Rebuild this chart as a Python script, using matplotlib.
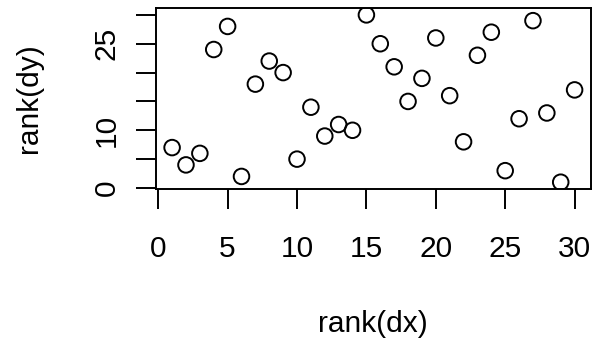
import matplotlib
matplotlib.use("Agg")
from matplotlib import pyplot as plt

# rank(dx) is just 1..30, rank(dy)
rank_dx = list(range(1, 31))
rank_dy = [7, 4, 6, 24, 28, 2, 18, 22, 20, 5, 14, 9, 11, 10, 30,
           25, 21, 15, 19, 26, 16, 8, 23, 27, 3, 12, 29, 13, 1, 17]
x_ticks = [0, 5, 10, 15, 20, 25, 30]
y_ticks = [0, 5, 10, 15, 20, 25, 30]
y_tick_labels = ["0", "", "10", "", "", "25", ""]

plt.rcParams["font.family"] = ["Liberation Sans", "DejaVu Sans"]
fs = 21.5

fig = plt.figure(figsize=(5.94, 3.43), dpi=100)
W, H = 594, 343
ax = fig.add_axes([156 / W, 1 - 188.9 / H, (590.7 - 156) / W, (188.9 - 8.2) / H])

ax.scatter(rank_dx, rank_dy, s=11.2 ** 2, facecolors="none", edgecolors="black",
           linewidths=1.4, zorder=3)

ax.set_xlim(-0.16, 31.16)
ax.set_ylim(-0.16, 31.16)
ax.set_xticks(x_ticks)
ax.set_xticklabels([str(t) for t in x_ticks])
ax.set_yticks(y_ticks)
ax.set_yticklabels(y_tick_labels, rotation=90, va="center")
ax.tick_params(length=14.4, width=1.4, labelsize=fs)
ax.tick_params(axis="x", pad=18.5)
ax.tick_params(axis="y", pad=11)
for s in ax.spines.values():
    s.set_linewidth(1.4)

ax.set_xlabel("rank(dx)", fontsize=fs, labelpad=34)
ax.set_ylabel("rank(dy)", fontsize=fs, labelpad=36)

plt.savefig("out.png", dpi=100)
